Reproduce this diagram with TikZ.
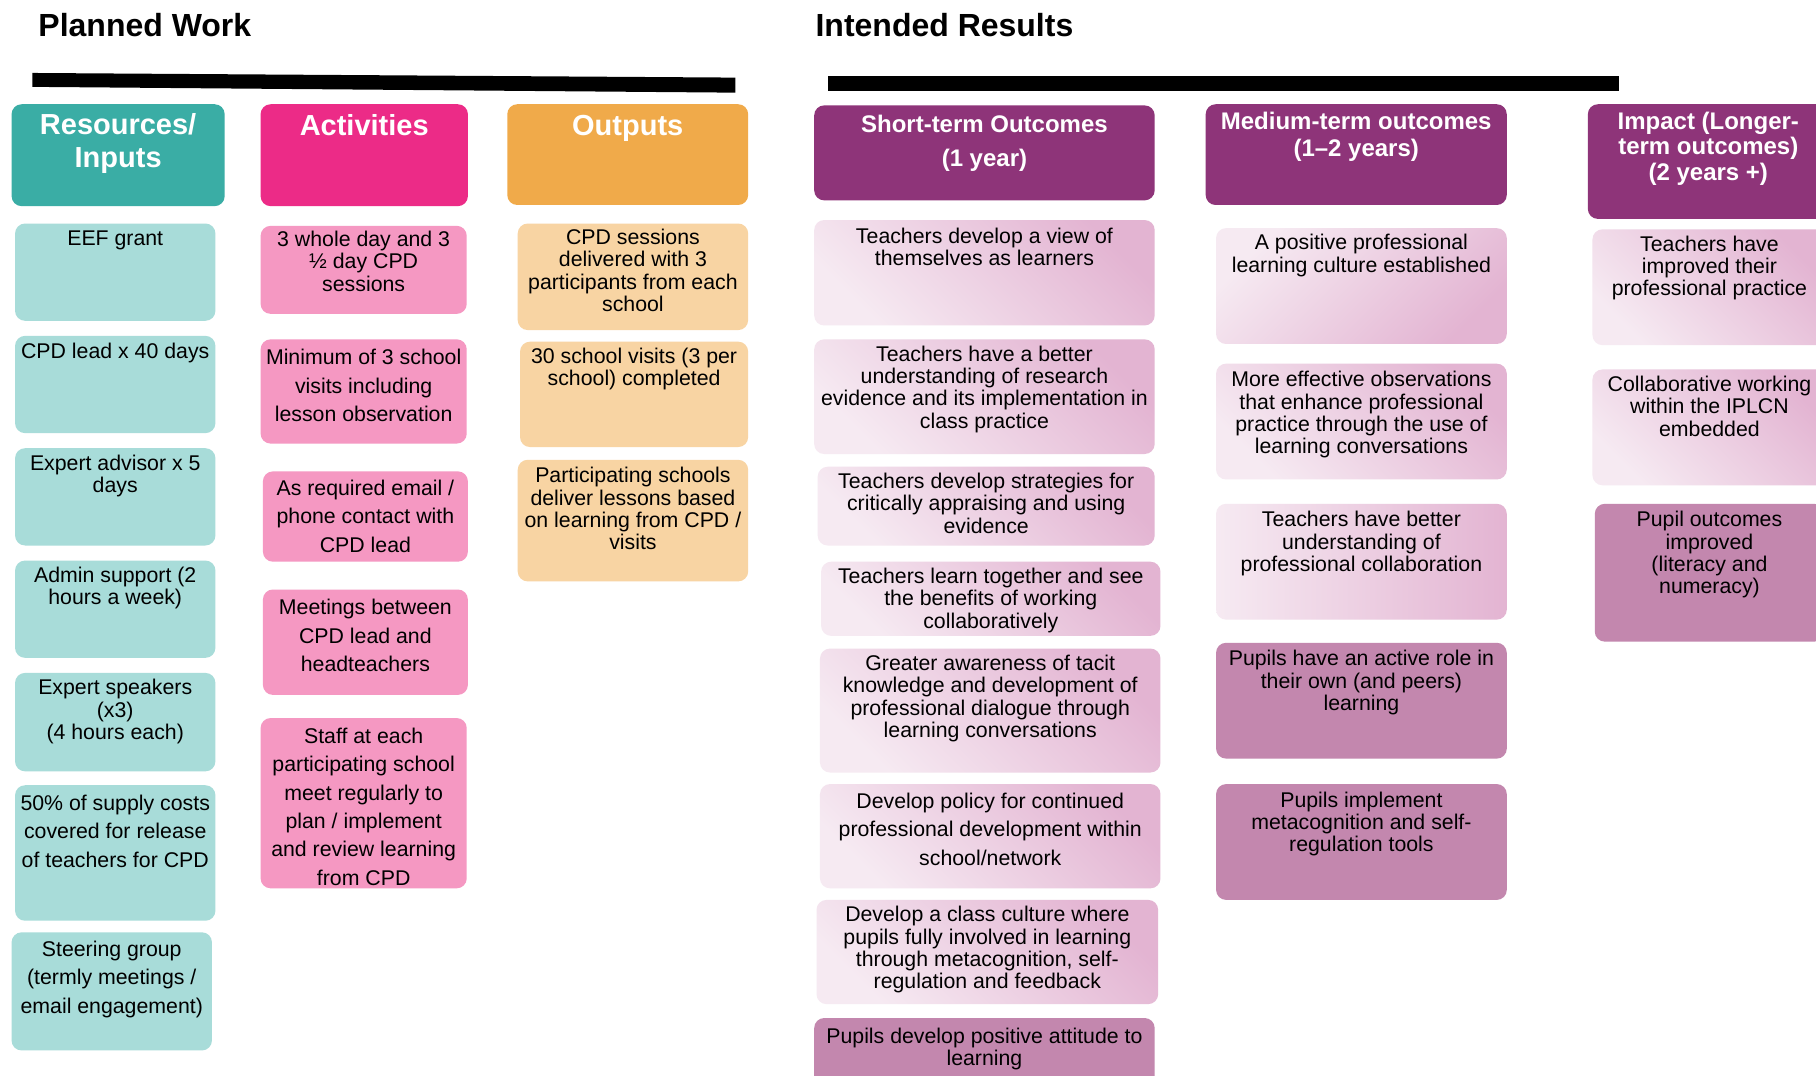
\documentclass[tikz,border=0pt]{standalone}
\usepackage{fontspec}
\setmainfont{Liberation Sans}
\usetikzlibrary{fit}
\definecolor{teal1}{HTML}{3AADA5}
\definecolor{teal2}{HTML}{A8DCD9}
\definecolor{pink1}{HTML}{EC2B87}
\definecolor{pink2}{HTML}{F598C2}
\definecolor{org1}{HTML}{F0AA4A}
\definecolor{org2}{HTML}{F8D4A3}
\definecolor{purp}{HTML}{8E3479}
\definecolor{mauve}{HTML}{C387AE}
\definecolor{lilA}{HTML}{F6EAF2}
\definecolor{lilB}{HTML}{E3B4D2}
\tikzset{
  boxbase/.style={rounded corners=10pt, inner sep=0pt, draw=none},
  tealhead/.style={boxbase, fill=teal1},
  tealbox/.style={boxbase, fill=teal2},
  pinkhead/.style={boxbase, fill=pink1},
  pinkbox/.style={boxbase, fill=pink2},
  orghead/.style={boxbase, fill=org1},
  orgbox/.style={boxbase, fill=org2},
  purphead/.style={boxbase, fill=purp},
  mauvebox/.style={boxbase, fill=mauve},
  lilbox/.style={boxbase, top color=lilB, bottom color=lilA, shading angle=-45},
  lilboxb/.style={boxbase, top color=lilB, bottom color=lilA, shading angle=-135},
  lilboxr/.style={boxbase, left color=lilA, right color=lilB},
  tight/.style={inner sep=0pt, align=center, yshift=7.7pt, font=\fontsize{21.3}{22.4}\selectfont},
  loose/.style={inner sep=0pt, align=center, yshift=7.7pt, font=\fontsize{21.3}{28.4}\selectfont},
  headA/.style={inner sep=0pt, align=center, yshift=10.4pt, text=white, font=\bfseries\fontsize{29}{32.4}\selectfont},
  headS/.style={inner sep=0pt, align=center, yshift=8.6pt, text=white, font=\bfseries\fontsize{24}{33.6}\selectfont},
  headM/.style={inner sep=0pt, align=center, yshift=8.6pt, text=white, font=\bfseries\fontsize{24}{26.6}\selectfont},
  headI/.style={inner sep=0pt, align=center, yshift=8.6pt, text=white, font=\bfseries\fontsize{24}{25.5}\selectfont},
  titletext/.style={inner sep=0pt, anchor=west, font=\bfseries\fontsize{32}{36}\selectfont},
}
\newcommand\ibox[9]{%
  \node[#2, fit={(#3,#4) (#5,#6)}] (#1) {};
  \node[#9, anchor=north] (#1t) at ({(#3+#5)/2}, #7) {#8};
}
\begin{document}
\begin{tikzpicture}[x=1.1582pt, y=-1.1582pt]
\path[use as bounding box, clip] (0,0) rectangle (1568,929);
\fill[white] (0,0) rectangle (1568,929);

% titles
\node[titletext] (tPW) at (33,22) {Planned Work};
\node[titletext] (tIR) at (704,22) {Intended Results};

% bars
\fill[black] (28,63) -- (635,67) -- (635,80) -- (28,75) -- cycle;
\fill[black] (715,66) -- (1398,66) -- (1398,79) -- (715,79) -- cycle;

% Resources / Inputs
\ibox{r0}{tealhead}{10}{90}{194}{178}{107}{Resources/\\Inputs}{headA}
\ibox{r1}{tealbox}{13}{193}{186}{277}{206}{EEF grant}{tight}
\ibox{r2}{tealbox}{13}{290}{186}{374}{303}{CPD lead x 40 days}{tight}
\ibox{r3}{tealbox}{13}{387}{186}{471}{399}{Expert advisor x 5\\days}{tight}
\ibox{r4}{tealbox}{13}{484}{186}{568}{496}{Admin support (2\\hours a week)}{tight}
\ibox{r5}{tealbox}{13}{581}{186}{666}{593}{Expert speakers\\(x3)\\(4 hours each)}{tight}
\ibox{r6}{tealbox}{13}{678}{186}{795}{693}{50\% of supply costs\\covered for release\\of teachers for CPD}{loose}
\ibox{r7}{tealbox}{10}{805}{183}{907}{819}{Steering group\\(termly meetings /\\email engagement)}{loose}

% Activities
\ibox{a0}{pinkhead}{225}{90}{404}{178}{108}{Activities}{headA}
\ibox{a1}{pinkbox}{225}{195}{403}{271}{206}{3 whole day and 3\\½ day CPD\\sessions}{tight}
\ibox{a2}{pinkbox}{225}{293}{403}{383}{308}{Minimum of 3 school\\visits including\\lesson observation}{loose}
\ibox{a3}{pinkbox}{227}{407}{404}{485}{421}{As required email /\\phone contact with\\CPD lead}{loose}
\ibox{a4}{pinkbox}{227}{509}{404}{600}{524}{Meetings between\\CPD lead and\\headteachers}{loose}
\ibox{a5}{pinkbox}{225}{620}{403}{767}{635}{Staff at each\\participating school\\meet regularly to\\plan / implement\\and review learning\\from CPD}{loose}

% Outputs
\ibox{o0}{orghead}{438}{90}{646}{177}{108}{Outputs}{headA}
\ibox{o1}{orgbox}{447}{193}{646}{285}{204}{CPD sessions\\delivered with 3\\participants from each\\school}{tight}
\ibox{o2}{orgbox}{449}{295}{646}{386}{307}{30 school visits (3 per\\school) completed}{tight}
\ibox{o3}{orgbox}{447}{397}{646}{502}{410}{Participating schools\\deliver lessons based\\on learning from CPD /\\visits}{tight}

% Short-term outcomes
\ibox{s0}{purphead}{703}{91}{997}{173}{107}{Short-term Outcomes\\(1 year)}{headS}
\ibox{s1}{lilbox}{703}{190}{997}{281}{203}{Teachers develop a view of\\themselves as learners}{tight}
\ibox{s2}{lilbox}{703}{293}{997}{392}{305}{Teachers have a better\\understanding of research\\evidence and its implementation in\\class practice}{tight}
\ibox{s3}{lilbox}{706}{403}{997}{471}{415}{Teachers develop strategies for\\critically appraising and using\\evidence}{tight}
\ibox{s4}{lilbox}{709}{485}{1002}{549}{497}{Teachers learn together and see\\the benefits of working\\collaboratively}{tight}
\ibox{s5}{lilbox}{708}{560}{1002}{667}{572}{Greater awareness of tacit\\knowledge and development of\\professional dialogue through\\learning conversations}{tight}
\ibox{s6}{lilbox}{708}{677}{1002}{767}{691}{Develop policy for continued\\professional development within\\school/network}{loose}
\ibox{s7}{lilbox}{705}{777}{1000}{867}{789}{Develop a class culture where\\pupils fully involved in learning\\through metacognition, self-\\regulation and feedback}{tight}
\ibox{s8}{mauvebox}{703}{879}{997}{950}{894}{Pupils develop positive attitude to\\learning}{tight}

% Medium-term outcomes
\ibox{m0}{purphead}{1041}{90}{1301}{177}{104}{Medium-term outcomes\\(1–2 years)}{headM}
\ibox{m1}{lilboxb}{1050}{197}{1301}{297}{209}{A positive professional\\learning culture established}{tight}
\ibox{m2}{lilbox}{1050}{314}{1301}{414}{327}{More effective observations\\that enhance professional\\practice through the use of\\learning conversations}{tight}
\ibox{m3}{lilboxr}{1050}{435}{1301}{535}{448}{Teachers have better\\understanding of\\professional collaboration}{tight}
\ibox{m4}{mauvebox}{1050}{555}{1301}{655}{568}{Pupils have an active role in\\their own (and peers)\\learning}{tight}
\ibox{m5}{mauvebox}{1050}{677}{1301}{777}{690}{Pupils implement\\metacognition and self-\\regulation tools}{tight}

% Impact
\ibox{i0}{purphead}{1371}{90}{1579}{189}{104}{Impact (Longer-\\term outcomes)\\(2 years +)}{headI}
\ibox{i1}{lilbox}{1375}{198}{1577}{298}{210}{Teachers have\\improved their\\professional practice}{tight}
\ibox{i2}{lilbox}{1375}{319}{1577}{419}{331}{Collaborative working\\within the IPLCN\\embedded}{tight}
\ibox{i3}{mauvebox}{1377}{435}{1575}{554}{448}{Pupil outcomes\\improved\\(literacy and\\numeracy)}{tight}
\end{tikzpicture}
\end{document}
